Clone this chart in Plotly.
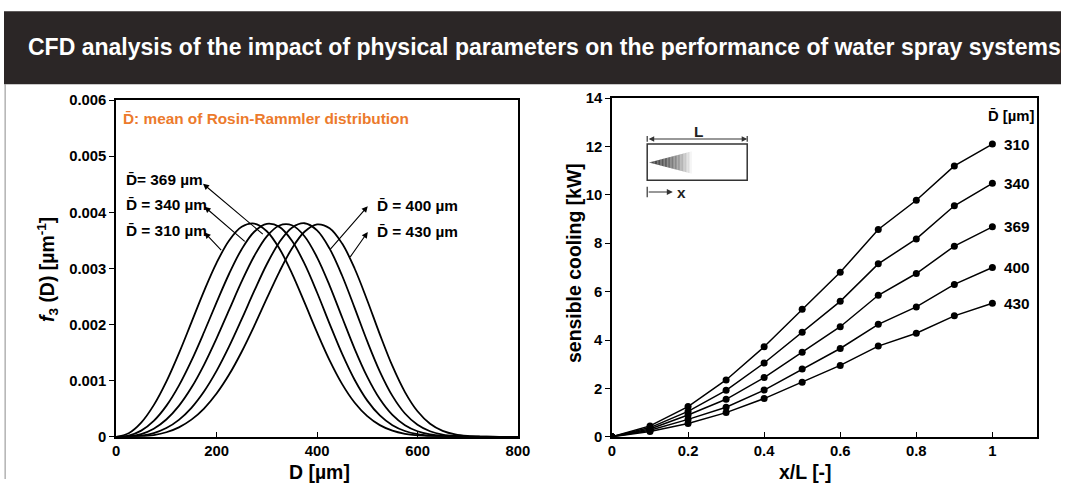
import plotly.graph_objects as go

W, H = 1073, 487
# The page is captured including the 8 px body margin and fitted back to W x H,
# so pixel targets are converted through that margin and the resulting scale.
BODY_MARGIN = 8
SX = W / (W + 2 * BODY_MARGIN)
SY = H / (H + 2 * BODY_MARGIN)
FONT = "Liberation Sans, Arial, Helvetica, sans-serif"
FS = 1.0 / ((SX + SY) / 2)  # font compensation for that scale

# ---- left panel: volume-based droplet size distributions f3(D) [1/µm]
D_um = [0, 25, 50, 75, 100, 125, 150, 175, 200, 225, 250, 275, 300, 325, 350, 375, 400,
        425, 450, 475, 500, 525, 550, 575, 600, 625, 650, 675, 700, 725, 750, 775, 800]
f3_310 = [0, 0.0000635, 0.000253, 0.000564, 0.000983, 0.001487, 0.00204, 0.002597, 0.0031,
          0.003499, 0.003742, 0.0038, 0.003664, 0.003356, 0.002912, 0.002394, 0.00186,
          0.001362, 0.000939, 0.000607, 0.000368, 0.000208, 0.000109, 0.0000535, 0.0000242,
          0.0000101, 0.0000039, 0.0000013, 0, 0, 0, 0, 0]
f3_340 = [0, 0.0000219, 0.0001104, 0.000284, 0.000551, 0.000912, 0.001357, 0.001863, 0.002395,
          0.002906, 0.003344, 0.003655, 0.003795, 0.003741, 0.003494, 0.003085, 0.002572,
          0.002013, 0.001477, 0.001012, 0.000645, 0.000381, 0.000207, 0.0001035, 0.0000472,
          0.0000197, 0.0000074, 0.0000025, 0, 0, 0, 0, 0]
f3_369 = [0, 0.0000079, 0.0000495, 0.0001444, 0.000308, 0.000551, 0.000877, 0.001283, 0.001754,
          0.002262, 0.002769, 0.003222, 0.003573, 0.003766, 0.00377, 0.003575, 0.003199,
          0.002695, 0.002126, 0.001564, 0.001068, 0.000672, 0.000389, 0.0002057, 0.0000984,
          0.0000426, 0.0000165, 0.0000057, 0.0000017, 0, 0, 0, 0]
f3_400 = [0, 0.0000024, 0.0000195, 0.0000658, 0.0001556, 0.000302, 0.000517, 0.000807, 0.001174,
          0.00161, 0.002096, 0.002599, 0.003075, 0.003469, 0.003727, 0.003806, 0.003679,
          0.003354, 0.00287, 0.002293, 0.0017, 0.001163, 0.000729, 0.000415, 0.000214,
          0.0000984, 0.0000402, 0.0000145, 0.0000045, 0.0000012, 0, 0, 0]
f3_430 = [0, 0.0000008, 0.0000082, 0.0000314, 0.0000811, 0.0001687, 0.000306, 0.000504, 0.000771,
          0.001109, 0.001516, 0.001976, 0.002465, 0.00294, 0.003357, 0.003654, 0.003786,
          0.003717, 0.003444, 0.002995, 0.00243, 0.001826, 0.001262, 0.000797, 0.000455,
          0.000233, 0.000106, 0.0000423, 0.0000147, 0.0000044, 0.000001, 0, 0]
f3_curves = [f3_310, f3_340, f3_369, f3_400, f3_430]
f3_ticks = [0, 0.001, 0.002, 0.003, 0.004, 0.005, 0.006]
f3_ticktext = ["0", "0.001", "0.002", "0.003", "0.004", "0.005", "0.006"]
D_ticks = [0, 200, 400, 600, 800]

# ---- right panel: sensible cooling along the duct [kW]
x_L = [0, 0.1, 0.2, 0.3, 0.4, 0.5, 0.6, 0.7, 0.8, 0.9, 1.0]
mean_D = [310, 340, 369, 400, 430]
cool_310 = [0, 0.45, 1.25, 2.35, 3.72, 5.27, 6.80, 8.57, 9.78, 11.20, 12.10]
cool_340 = [0, 0.38, 1.05, 1.92, 3.05, 4.32, 5.60, 7.15, 8.18, 9.55, 10.48]
cool_369 = [0, 0.32, 0.90, 1.55, 2.45, 3.50, 4.55, 5.85, 6.75, 7.88, 8.68]
cool_400 = [0, 0.27, 0.72, 1.22, 1.93, 2.80, 3.65, 4.65, 5.37, 6.30, 7.00]
cool_430 = [0, 0.22, 0.55, 1.00, 1.58, 2.25, 2.95, 3.75, 4.28, 5.00, 5.52]
cool_curves = [cool_310, cool_340, cool_369, cool_400, cool_430]
xL_ticks = [0, 0.2, 0.4, 0.6, 0.8, 1.0]
xL_ticktext = ["0", "0.2", "0.4", "0.6", "0.8", "1"]
cool_ticks = [0, 2, 4, 6, 8, 10, 12, 14]


def px(x):
    """target pixel column -> paper fraction"""
    f = (x - BODY_MARGIN * SX) / SX / W
    return min(max(f, 0.0), 1.0)


def py(y):
    """target pixel row -> paper fraction"""
    f = 1 - (y - BODY_MARGIN * SY) / SY / H
    return min(max(f, 0.0), 1.0)


def fs(size):
    return round(size * FS, 2)


fig = go.Figure()

for f3 in f3_curves:
    fig.add_trace(go.Scatter(
        x=D_um, y=f3, mode="lines", xaxis="x", yaxis="y",
        line=dict(color="black", width=1.8, shape="spline", smoothing=1.0),
        showlegend=False, hoverinfo="skip"))

for vals in cool_curves:
    fig.add_trace(go.Scatter(
        x=x_L, y=vals, mode="lines+markers", xaxis="x2", yaxis="y2",
        line=dict(color="black", width=1.5),
        marker=dict(color="black", size=7),
        showlegend=False, hoverinfo="skip"))

tickfont = dict(family=FONT, size=fs(14.5), color="black", weight="bold")
axis_common = dict(showline=True, mirror=True, linecolor="black", linewidth=1.5,
                   showgrid=False, zeroline=False, tickfont=tickfont,
                   tickcolor="black", tickwidth=1.2, ticklen=5)

shapes = []
# dark title banner
shapes.append(dict(type="rect", xref="paper", yref="paper", x0=px(5), x1=1.0,
                   y0=py(84), y1=py(11), fillcolor="#2b2626", line=dict(width=0),
                   layer="below"))
# panel border below the banner
shapes.append(dict(type="line", xref="paper", yref="paper", x0=px(9), x1=px(9),
                   y0=0, y1=py(84), line=dict(color="#8c8c8c", width=1)))

# inset sketch of the duct with the spray cone
rx0, rx1, ry0, ry1 = 0.0926, 0.3555, 10.61, 12.10
shapes.append(dict(type="rect", xref="x2", yref="y2", x0=rx0, x1=rx1, y0=ry0, y1=ry1,
                   line=dict(color="#333333", width=1.5), fillcolor="white"))
apex_x, apex_y, base_x, half_h = 0.0968, 11.34, 0.21, 0.46
n_slices = 30
for i in range(n_slices):
    a = apex_x + (base_x - apex_x) * i / n_slices
    b = apex_x + (base_x - apex_x) * (i + 1) / n_slices
    ha = half_h * i / n_slices
    hb = half_h * (i + 1) / n_slices
    t = (i + 0.5) / n_slices
    g = int(70 + (252 - 70) * t ** 2)
    shapes.append(dict(
        type="path", xref="x2", yref="y2",
        path=f"M {a},{apex_y - ha} L {b},{apex_y - hb} L {b},{apex_y + hb} L {a},{apex_y + ha} Z",
        fillcolor=f"rgb({g},{g},{g})", line=dict(width=0)))
# end bars of the length dimension
for xb in (rx0, rx1):
    shapes.append(dict(type="line", xref="x2", yref="y2", x0=xb, x1=xb, y0=12.2, y1=12.44,
                       line=dict(color="#333333", width=1.2)))
# origin bar of the x coordinate arrow
shapes.append(dict(type="line", xref="x2", yref="y2", x0=rx0, x1=rx0, y0=9.9, y1=10.34,
                   line=dict(color="#333333", width=1.2)))

annotations = []
# banner title
annotations.append(dict(
    xref="paper", yref="paper", x=px(30), y=py(47), xanchor="left", yanchor="middle",
    text="CFD analysis of the impact of physical parameters on the performance of water spray systems",
    showarrow=False, font=dict(family=FONT, size=23.0, color="white", weight="bold")))

lab = dict(family=FONT, size=fs(15), color="black", weight="bold")
annotations.append(dict(
    xref="paper", yref="paper", x=px(125), y=py(118), xanchor="left", yanchor="middle",
    text="D\u0304: mean of Rosin-Rammler distribution", showarrow=False,
    font=dict(family=FONT, size=fs(15), color="#EC7A2C", weight="bold")))

# curve labels of the left panel
left_labels = [("D\u0304= 369 µm", 179), ("D\u0304 = 340 µm", 204), ("D\u0304 = 310 µm", 230)]
for t, yy in left_labels:
    annotations.append(dict(xref="paper", yref="paper", x=px(128), y=py(yy),
                            xanchor="left", yanchor="middle", text=t, showarrow=False, font=lab))
right_labels = [("D\u0304 = 400 µm", 205), ("D\u0304 = 430 µm", 231)]
for t, yy in right_labels:
    annotations.append(dict(xref="paper", yref="paper", x=px(379), y=py(yy),
                            xanchor="left", yanchor="middle", text=t, showarrow=False, font=lab))

# arrows: (head D, head f3, tail D, tail f3)
arrows = [(173, 0.00451, 295, 0.00359),
          (176, 0.00410, 259, 0.00346),
          (176, 0.00364, 212, 0.00330),
          (501, 0.00411, 424, 0.00332),
          (501, 0.00365, 464, 0.00318)]
for hx, hy, tx, ty in arrows:
    annotations.append(dict(xref="x", yref="y", x=hx, y=hy, ax=tx, ay=ty,
                            axref="x", ayref="y", text="", showarrow=True,
                            arrowhead=2, arrowsize=1.1, arrowwidth=1.1,
                            arrowcolor="black", standoff=0, startstandoff=0))

# axis titles
ttl = dict(family=FONT, size=fs(19), color="black", weight="bold")
annotations.append(dict(xref="paper", yref="paper", x=px(52), y=py(270),
                        xanchor="center", yanchor="middle", textangle=-90,
                        text="<i>f</i><sub>3</sub> (D) [µm<sup>-1</sup>]",
                        showarrow=False, font=ttl))
annotations.append(dict(xref="paper", yref="paper", x=px(323), y=py(472),
                        xanchor="center", yanchor="middle", text="D [µm]",
                        showarrow=False, font=ttl))
annotations.append(dict(xref="paper", yref="paper", x=px(578), y=py(263),
                        xanchor="center", yanchor="middle", textangle=-90,
                        text="sensible cooling [kW]", showarrow=False, font=ttl))
annotations.append(dict(xref="paper", yref="paper", x=px(810), y=py(472),
                        xanchor="center", yanchor="middle", text="x/L [-]",
                        showarrow=False, font=ttl))

# right panel: series labels at the end of each line
for d, vals in zip(mean_D, cool_curves):
    annotations.append(dict(xref="x2", yref="y2", x=1.025, y=vals[-1], xanchor="left",
                            yanchor="middle", text=str(d), showarrow=False, font=lab))
annotations.append(dict(xref="x2", yref="y2", x=1.05, y=13.3, xanchor="center",
                        yanchor="middle", text="D\u0304 [µm]", showarrow=False,
                        font=dict(family=FONT, size=fs(14.5), color="black", weight="bold")))

# inset annotations
annotations.append(dict(xref="x2", yref="y2", x=rx1, y=12.31, ax=rx0, ay=12.31,
                        axref="x2", ayref="y2", text="", showarrow=True,
                        arrowhead=2, arrowside="end+start", arrowsize=1.0,
                        arrowwidth=1.1, arrowcolor="#333333", standoff=0, startstandoff=0))
annotations.append(dict(xref="x2", yref="y2", x=0.2265, y=12.62, text="L", showarrow=False,
                        font=dict(family=FONT, size=fs(15), color="#222222", weight="bold")))
annotations.append(dict(xref="x2", yref="y2", x=0.16, y=10.12, ax=rx0, ay=10.12,
                        axref="x2", ayref="y2", text="", showarrow=True,
                        arrowhead=2, arrowsize=1.0, arrowwidth=1.2, arrowcolor="#333333",
                        standoff=0, startstandoff=0))
annotations.append(dict(xref="x2", yref="y2", x=0.183, y=10.08, text="x", showarrow=False,
                        font=dict(family=FONT, size=fs(15), color="#222222", weight="bold")))

fig.update_layout(
    width=W, height=H, margin=dict(l=0, r=0, t=0, b=0),
    paper_bgcolor="white", plot_bgcolor="white",
    xaxis=dict(domain=[px(120), px(522)], range=[0, 800], tickvals=D_ticks,
               ticks="inside", anchor="y", **axis_common),
    yaxis=dict(domain=[py(437), py(100)], range=[0, 0.006], tickvals=f3_ticks,
               ticktext=f3_ticktext, ticks="outside", anchor="x", **axis_common),
    xaxis2=dict(domain=[px(616), px(1041)], range=[0, 1.117], tickvals=xL_ticks,
                ticktext=xL_ticktext, ticks="inside", anchor="y2", **axis_common),
    yaxis2=dict(domain=[py(437), py(98)], range=[0, 14], tickvals=cool_ticks,
                ticks="outside", anchor="x2", **axis_common),
    shapes=shapes, annotations=annotations,
)

fig.write_html("out.html")
